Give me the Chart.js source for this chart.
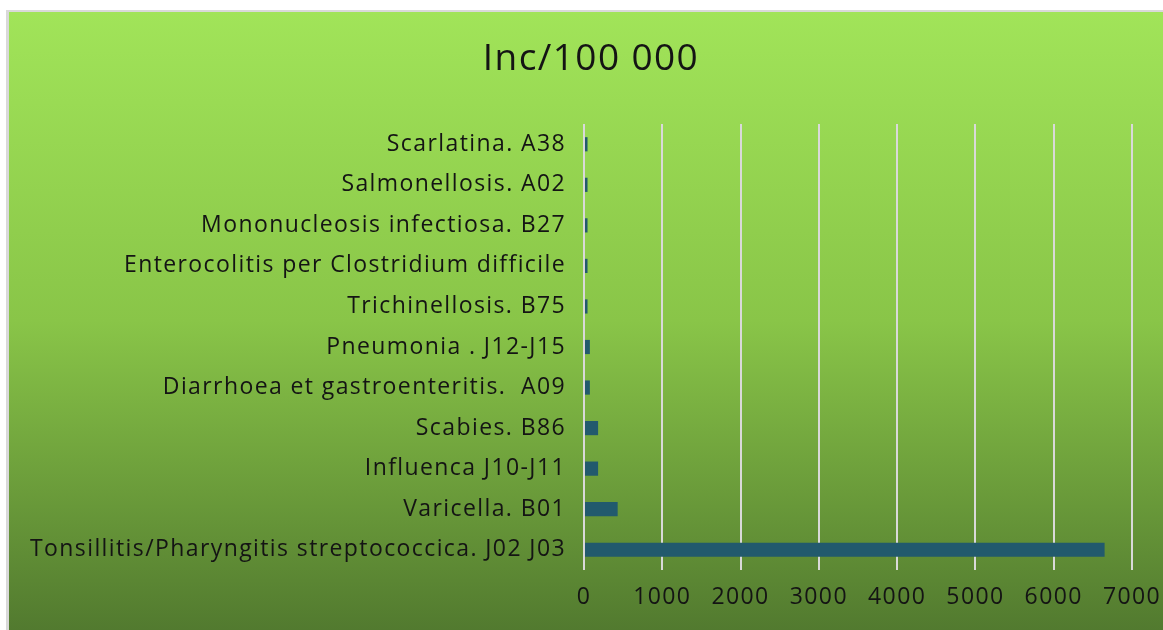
<!DOCTYPE html>
<html>
<head>
<meta charset="utf-8">
<script src="https://cdn.jsdelivr.net/npm/chart.js@4"></script>
<style>
  html, body { margin: 0; padding: 0; background: #fff; }
  #wrap { width: 1163px; height: 630px; }
</style>
</head>
<body>
<div id="wrap"><canvas id="incChart" width="1163" height="630"></canvas></div>
<script>
// categories top to bottom
const diseases = [
  'Scarlatina. A38',
  'Salmonellosis. A02',
  'Mononucleosis infectiosa. B27',
  'Enterocolitis per Clostridium difficile',
  'Trichinellosis. B75',
  'Pneumonia . J12-J15',
  'Diarrhoea et gastroenteritis.  A09',
  'Scabies. B86',
  'Influenca J10-J11',
  'Varicella. B01',
  'Tonsillitis/Pharyngitis streptococcica. J02 J03'
]
const incidence = [45, 45, 45, 45, 45, 75, 75, 180, 180, 430, 6650]
const xTicks = [0, 1000, 2000, 3000, 4000, 5000, 6000, 7000]
const chartTitle = 'Inc/100 000'

const txt = '#141414'
const fam = "'Open Sans', Lato, sans-serif"

// green panel with the grey frame on top/left
const panelBg = {
  id: 'panelBg',
  beforeDraw: (chart) => {
    const ctx = chart.ctx
    const w = chart.width, h = chart.height
    ctx.fillStyle = '#ffffff'
    ctx.fillRect(0, 0, w, h)
    ctx.fillStyle = '#d9d9d9'
    ctx.fillRect(6, 10, w - 6, 2)
    ctx.fillRect(6, 10, 3, h - 10)
    const grad = ctx.createLinearGradient(0, 12, 0, h)
    grad.addColorStop(0, '#a1e459')
    grad.addColorStop(0.5, '#89c548')
    grad.addColorStop(1, '#527a2f')
    ctx.fillStyle = grad
    ctx.fillRect(9, 12, w - 9, h - 12)
    // the original text is a bit stretched, spread the letters a little
    ctx.letterSpacing = '1.4px'
  },
  afterDraw: (chart) => { chart.ctx.letterSpacing = '0px' }
}

// title centred on the green panel, not on the plot
const panelTitle = {
  id: 'panelTitle',
  afterDraw: (chart) => {
    const ctx = chart.ctx
    ctx.save()
    ctx.letterSpacing = '1.4px'
    ctx.font = '37px ' + fam
    ctx.fillStyle = txt
    ctx.textAlign = 'center'
    ctx.textBaseline = 'middle'
    ctx.fillText(chartTitle, (9 + chart.width) / 2 + 5, 59)
    ctx.restore()
  }
}

new Chart(document.getElementById('incChart'), {
  type: 'bar',
  data: {
    labels: diseases,
    datasets: [{
      label: chartTitle,
      data: incidence,
      backgroundColor: '#225a6d',
      barPercentage: 0.35,
      categoryPercentage: 1
    }]
  },
  plugins: [panelBg, panelTitle],
  options: {
    indexAxis: 'y',
    responsive: false,
    animation: false,
    layout: { padding: { left: 0, right: 31, top: 124, bottom: 0 } },
    plugins: {
      legend: { display: false },
      tooltip: { enabled: false },
      title: { display: false }
    },
    scales: {
      x: {
        min: 0,
        max: 7000,
        afterBuildTicks: (scale) => { scale.ticks = xTicks.map(v => ({ value: v })) },
        afterFit: (scale) => {
          scale.height = 60
          scale.paddingLeft = 0
          scale.paddingRight = 0
        },
        grid: { color: '#d9d9d9', lineWidth: 2, drawTicks: false },
        border: { display: false },
        ticks: {
          color: txt,
          padding: 14,
          maxRotation: 0,
          callback: (v) => String(v),
          font: { family: fam, size: 23 }
        }
      },
      y: {
        afterFit: (scale) => {
          scale.width = 584
          scale.paddingTop = 0
          scale.paddingBottom = 0
        },
        grid: { display: false, drawTicks: false },
        border: { display: false },
        ticks: {
          color: txt,
          padding: 18,
          autoSkip: false,
          font: { family: fam, size: 23 }
        }
      }
    }
  }
})
</script>
</body>
</html>
